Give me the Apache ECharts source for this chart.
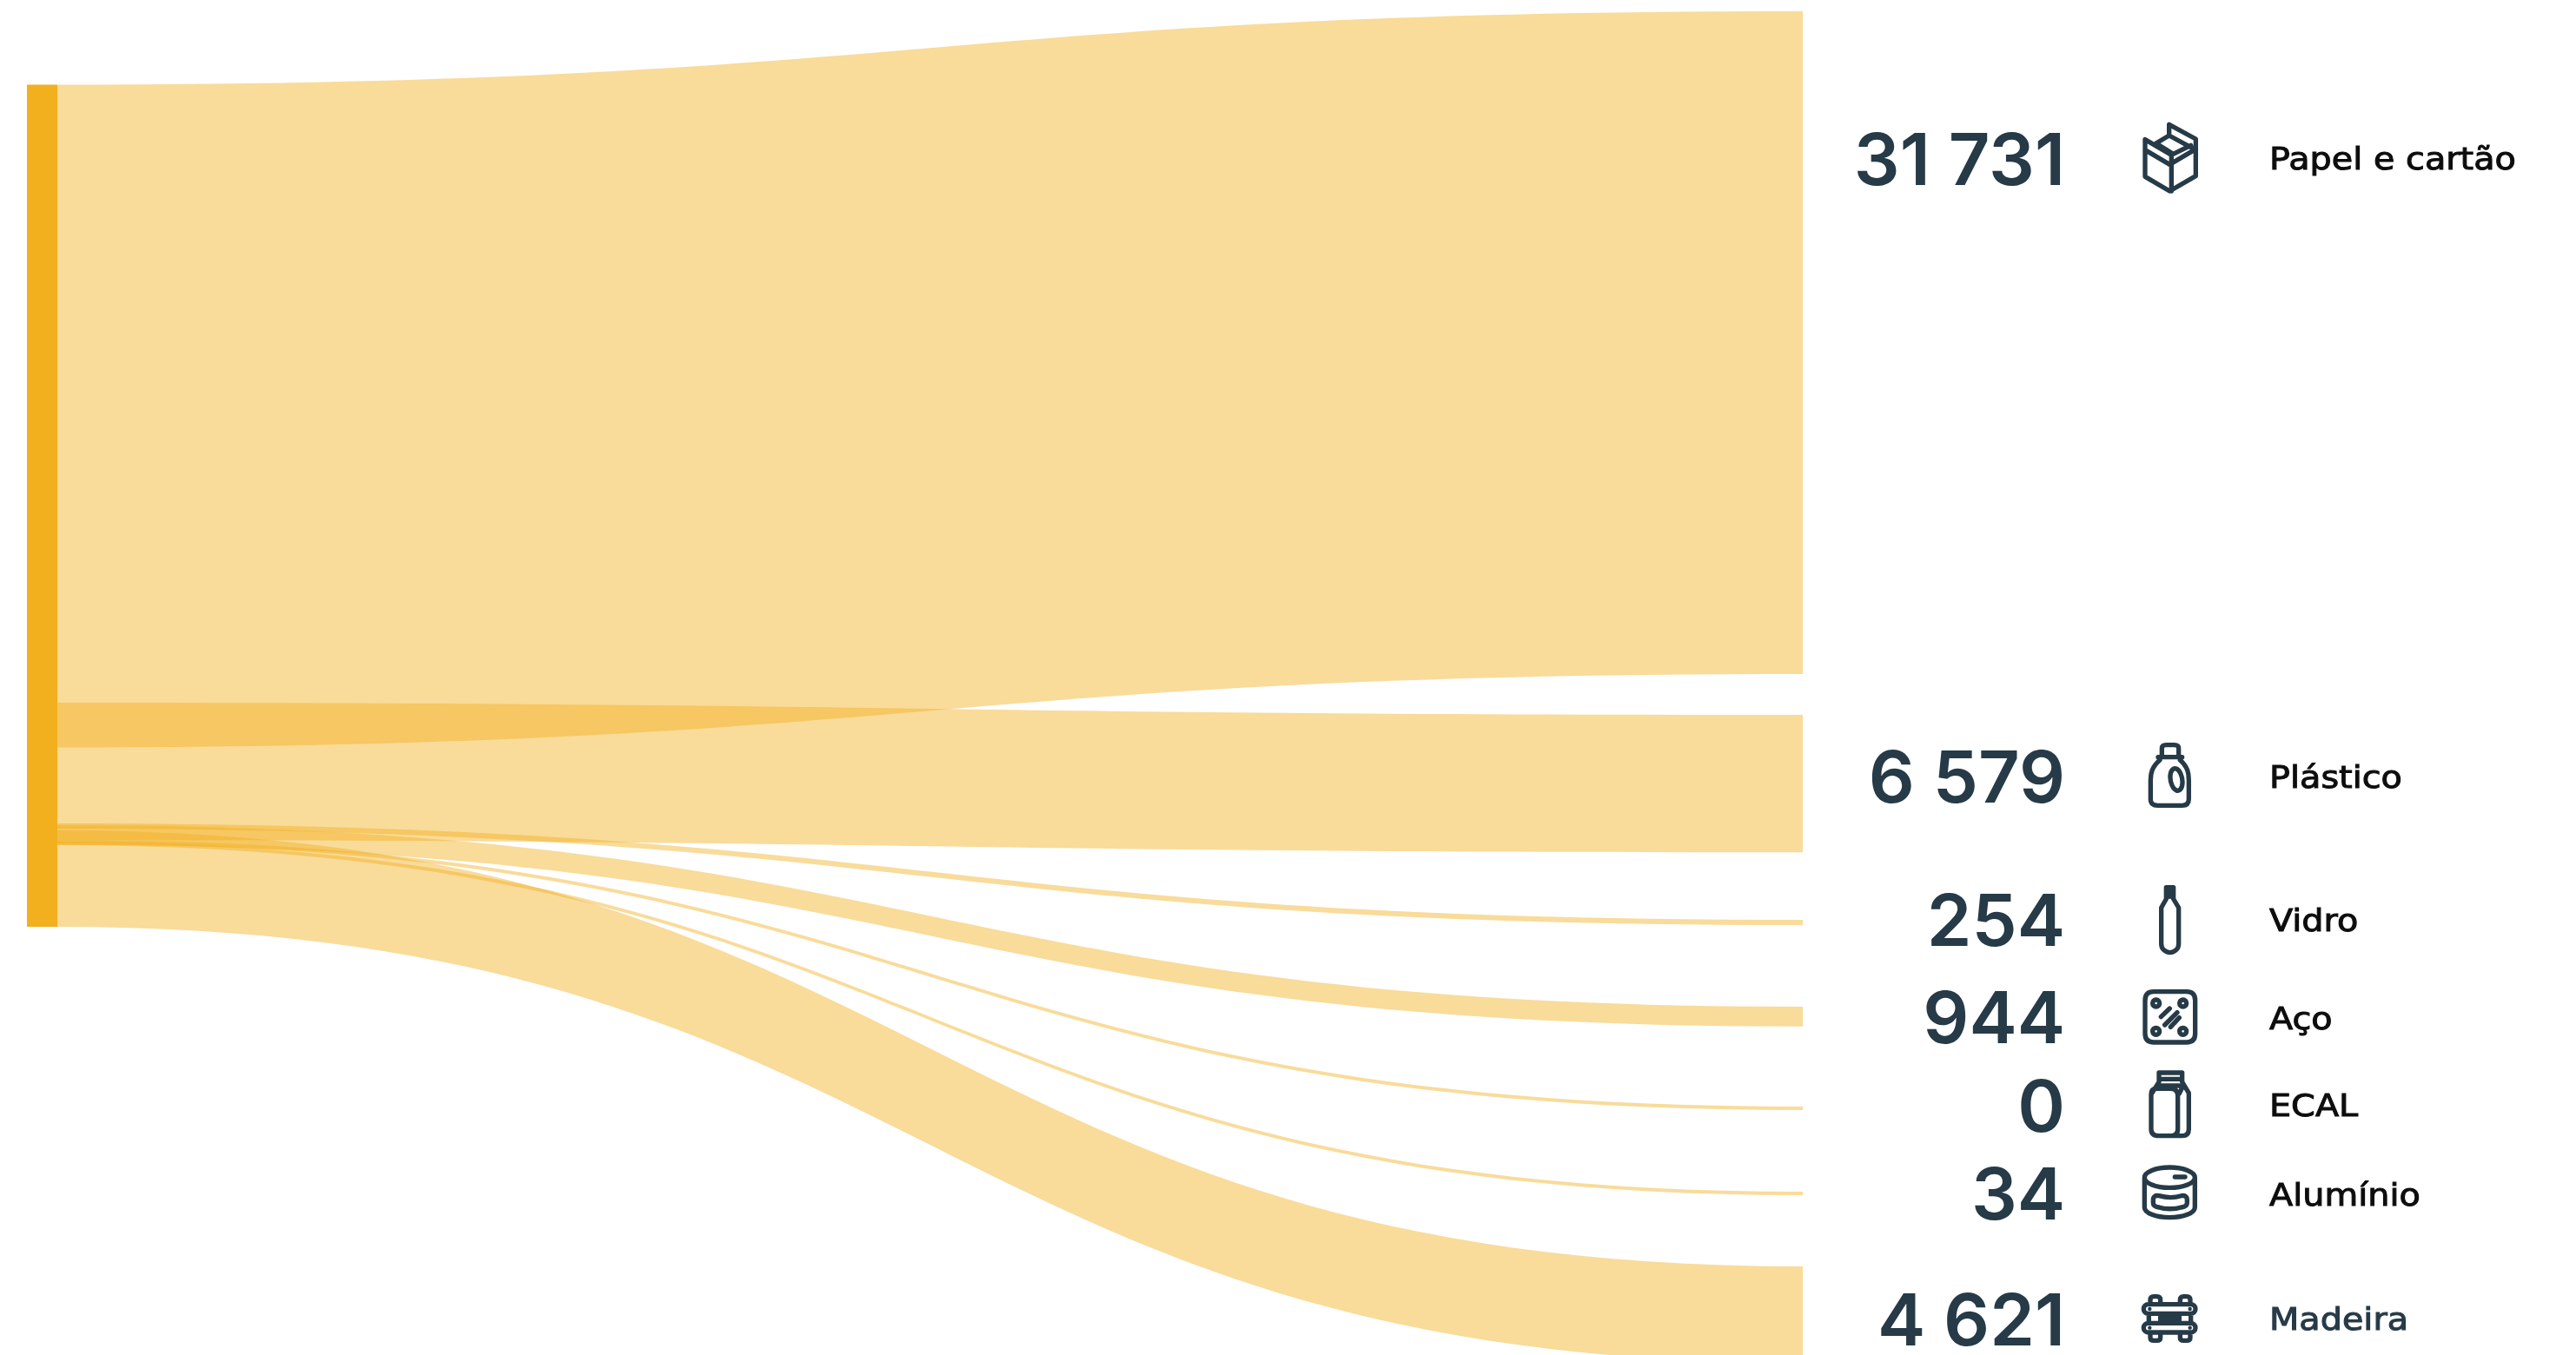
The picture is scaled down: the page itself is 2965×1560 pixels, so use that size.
<!DOCTYPE html>
<html><head><meta charset="utf-8">
<style>html,body{margin:0;padding:0;background:#fff}#c{width:2965px;height:1560px}</style>
<script src="https://cdn.jsdelivr.net/npm/echarts@6/dist/echarts.min.js"></script>
</head><body><div id="c"></div>
<script>
const materials = ['Papel e cartão','Plástico','Vidro','Aço','ECAL','Alumínio','Madeira'];
const tonnes = [31731,6579,254,944,0,34,4621];

// layout (pixels on the page)
const PX_PER_TONNE = 0.024046;
const MIN_BAND_PX = 4;
const bandTopLeft  = [97.5,809,948,950,967,969,956];
const bandTopRight = [13,823,1059,1159,1274,1372,1458];
const numberY = [188,899,1064,1176,1278,1379,1524];
const labelY  = [186,898,1063,1176,1276,1379,1522];
const iconOrigin = [[2440,130],[2440,845],[2440,845],[2440,1125],[2440,1225],[2440,1225],[2440,1470]];
const LEFT = 31, NODE_W = 35, RIGHT_EDGE = 2075;
const NUMBER_RIGHT = 2377, LABEL_LEFT = 2612;
const INK = '#263A47', AMBER = '#F2B01E';

const iconPaths = [
 'M87 92V220L172 270L262 218V90L170 40V78L125 105M87 128L172 178L262 125M87 92L178 145V270M170 78L262 128M125 105L178 138M178 145L245 112',
 'M145 72V50Q145 38 160 38H188Q203 38 203 50V72M132 80H215M138 90C110 115 106 135 106 160V225Q106 247 130 247H215Q238 247 238 225V160C238 135 235 115 208 90M180 125A20 38 -10 1 1 210 190A20 38 -10 1 1 180 125Z',
 'M160 530H185V570L203 600V725A30 30 0 0 1 143 725V600L160 570ZM172 545V562',
 'M117 50H230Q260 50 260 80V195Q260 225 230 225H117Q87 225 87 195V80Q87 50 117 50ZM125 78A12 12 0 1 1 124.9 78ZM218 78A12 12 0 1 1 217.9 78ZM125 175A12 12 0 1 1 124.9 175ZM218 175A12 12 0 1 1 217.9 175ZM142 137L172 108M155 165L198 122M175 172L205 140',
 'M135 30H215V52H135ZM135 52V62L108 105V225Q108 248 135 248H215Q238 248 238 225V100L215 62V52M135 75H205M125 85H175Q200 85 200 110V225Q200 248 175 248M125 85Q108 85 108 105M205 102L220 72',
 'M85 392A87 35 0 1 1 259 392A87 35 0 1 1 85 392ZM85 392V495C85 515 125 530 172 530C219 530 259 515 259 495V392M190 390H225M135 455C160 462 190 462 212 455Q232 452 232 470V480Q232 492 212 495C190 502 155 502 135 495Q115 492 115 480V470Q115 452 135 455Z',
 'M98 95H245A16 16 0 0 1 245 127H98A16 16 0 0 1 98 95ZM98 160H245A16 16 0 0 1 245 192H98A16 16 0 0 1 98 160ZM105 90V80Q105 68 117 68H128Q140 68 140 80V90M208 90V80Q208 68 220 68H231Q243 68 243 80V90M105 197V210Q105 220 117 220H128Q140 220 140 210V197M208 197V210Q208 220 220 220H231Q243 220 243 210V197M100 135V155M140 135V155M205 135V155M245 135V155M140 136H205M140 151H205'
];
const iconDots = [[],[],[],[],[],[],[[103,111],[242,111],[103,176],[242,176]]];

const fmt = v => String(v).replace(/\B(?=(\d{3})+$)/g,' ');
const drawn = tonnes.map(v => Math.max(v, MIN_BAND_PX / PX_PER_TONNE));
const H = drawn.reduce((a,b)=>a+b,0) * PX_PER_TONNE;

const nodes = [], links = [];
materials.forEach((m,i)=>{
  nodes.push({name:'src:'+m, depth:0, localY:bandTopLeft[i]/H, itemStyle:{color:AMBER,opacity:1}});
});
materials.forEach((m,i)=>{
  nodes.push({name:m, depth:1, localY:bandTopRight[i]/H, itemStyle:{opacity:0}});
  links.push({source:'src:'+m, target:m, value:drawn[i]});
});

const chart = echarts.init(document.getElementById('c'),null,{renderer:'canvas'});
chart.setOption({
  animation:false,
  backgroundColor:'#fff',
  tooltip:{show:false},
  series:[{
    type:'sankey',
    left:LEFT, top:0, width:RIGHT_EDGE+NODE_W-LEFT, height:H,
    nodeWidth:NODE_W, nodeGap:0, layoutIterations:0, draggable:false,
    silent:true,
    label:{show:false},
    emphasis:{disabled:true},
    itemStyle:{borderWidth:0},
    lineStyle:{color:AMBER,opacity:0.45,curveness:0.5},
    data:nodes, links:links
  },{
    type:'custom', coordinateSystem:'none', silent:true,
    data:materials.map((m,i)=>i),
    renderItem(params){
      const i = params.dataIndex;
      const labelInk = i===6?INK:'#0d0d0d';
      const kids = [
        {type:'text',style:{x:NUMBER_RIGHT,y:numberY[i],text:fmt(tonnes[i]),fill:INK,
          font:'600 83px Inter',textAlign:'right',textVerticalAlign:'middle'}},
        {type:'text',x:LABEL_LEFT,y:labelY[i],scaleX:1.136,
          style:{x:0,y:0,text:materials[i],fill:labelInk,stroke:labelInk,lineWidth:1,
          font:'35px "DejaVu Sans"',textAlign:'left',textVerticalAlign:'middle'}},
        {type:'path',x:iconOrigin[i][0],y:iconOrigin[i][1],scaleX:1/3,scaleY:1/3,
          shape:{pathData:iconPaths[i]},
          style:{fill:'none',stroke:INK,lineWidth:16,lineCap:'round',lineJoin:'round'}}
      ];
      iconDots[i].forEach(d=>kids.push({type:'circle',
        shape:{cx:iconOrigin[i][0]+d[0]/3,cy:iconOrigin[i][1]+d[1]/3,r:2.2},style:{fill:INK}}));
      return {type:'group',children:kids};
    }
  }]
});
</script></body></html>
